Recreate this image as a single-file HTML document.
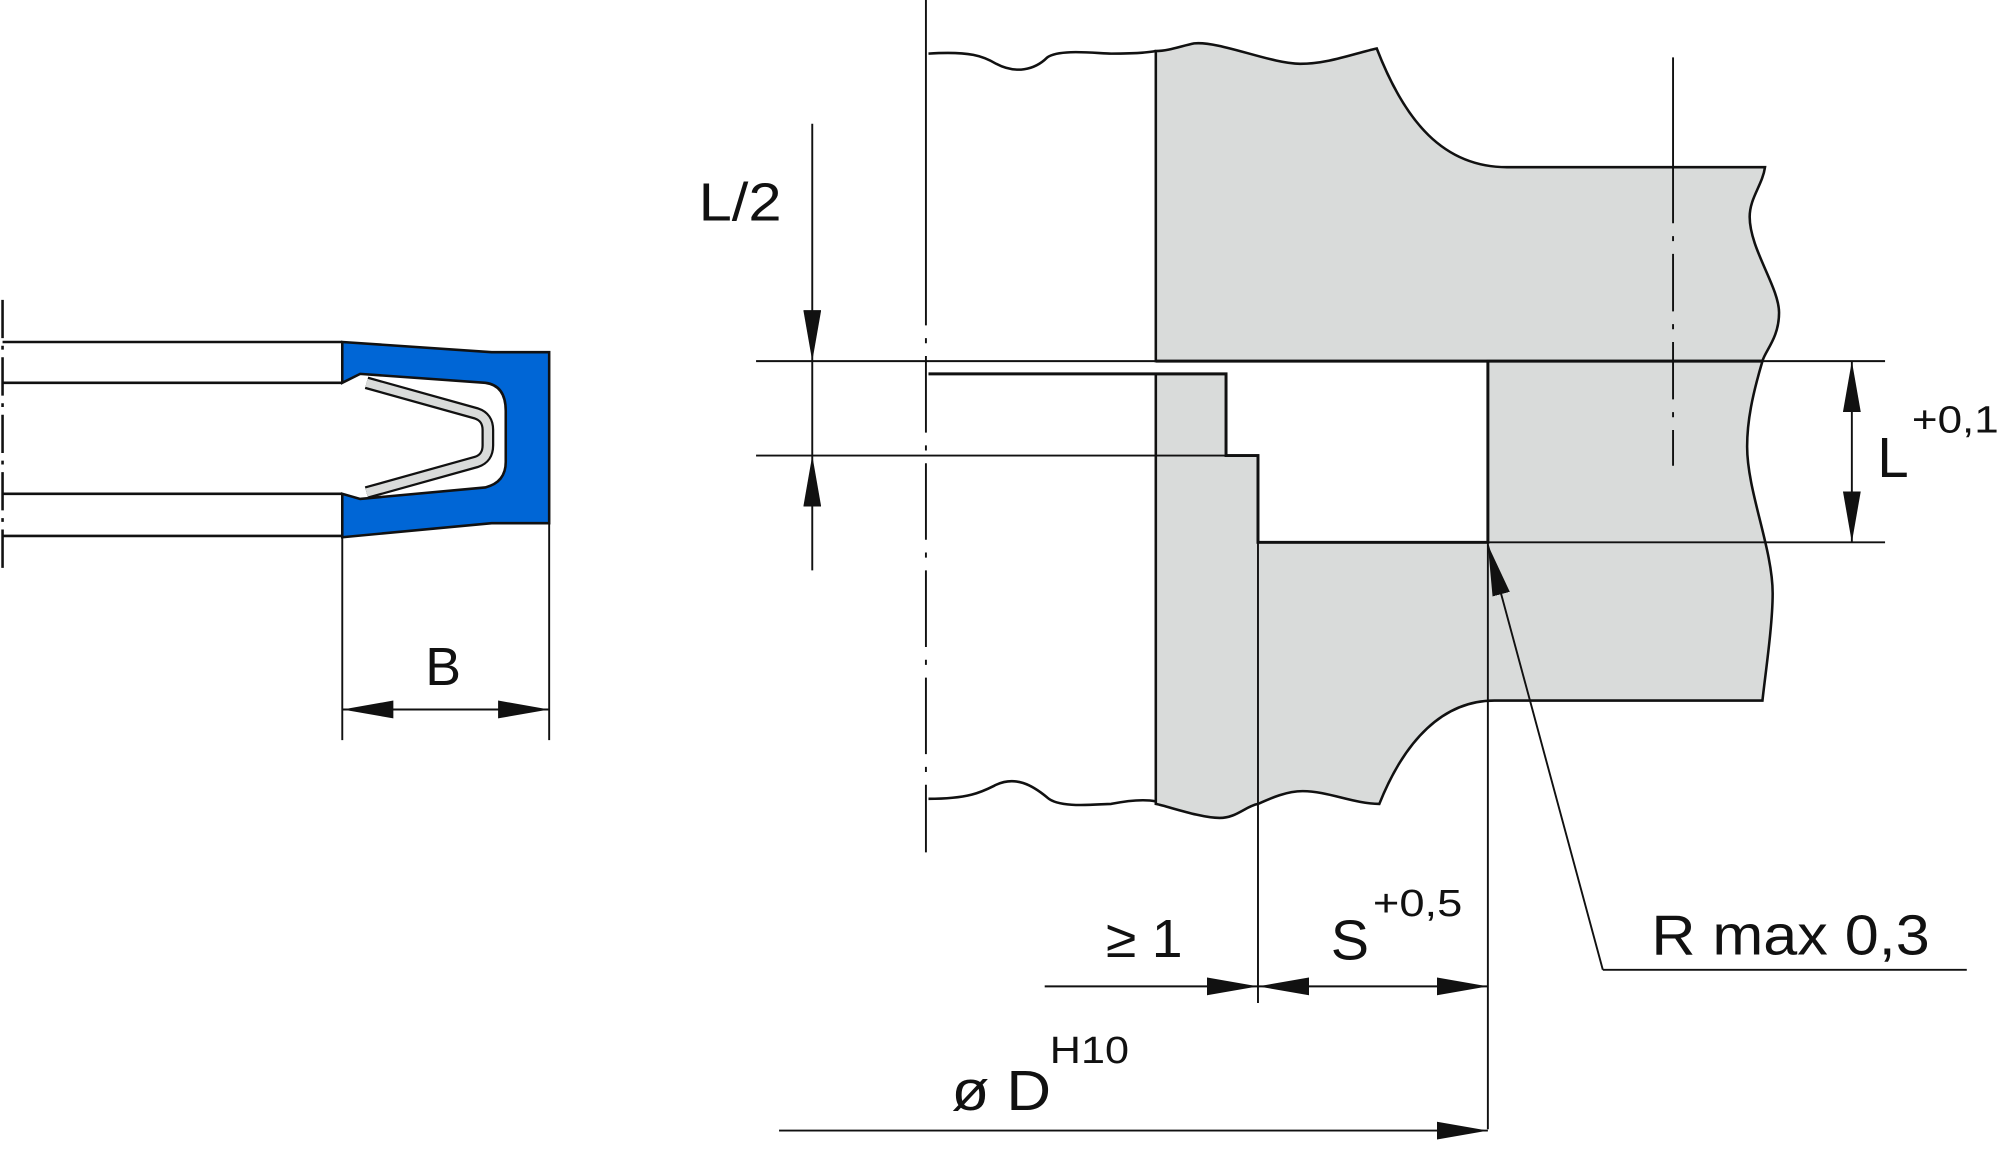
<!DOCTYPE html>
<html><head><meta charset="utf-8"><style>html,body{margin:0;padding:0;background:#fff}svg{display:block}</style></head><body>
<svg width="2000" height="1151" viewBox="0 0 1566 902" preserveAspectRatio="none" xmlns="http://www.w3.org/2000/svg">
<defs>
<marker id="a" viewBox="0 0 40 14" refX="40" refY="7" markerWidth="40" markerHeight="14" markerUnits="userSpaceOnUse" orient="auto-start-reverse"><path d="M0,0 L40,7 L0,14 Z" fill="#111"/></marker>
</defs>
<g fill="none" stroke="#111" stroke-width="2">
<!-- left part -->
<path d="M2,268 H268 M2,300 H268 M2,387 H268 M2,420 H268"/>
<path d="M268,268 L385,276 L430,276 L430,410 L385,410 L268,421 L268,387 L282,391 L380,382 Q396,378 396,362 L396,322 Q396,302 380,300 L282,293 L268,300 Z" fill="#0066d6"/>
<path d="M287,300 L373,324 Q382,327 382,337 L382,349 Q382,359 373,362 L287,386" stroke="#111" stroke-width="10" stroke-linejoin="round"/>
<path d="M287,300 L373,324 Q382,327 382,337 L382,349 Q382,359 373,362 L287,386" stroke="#d9dbda" stroke-width="6.5" stroke-linejoin="round"/>
<path d="M268,421 V580 M430,410 V580" stroke-width="1.5"/>
<path d="M268,556 H430" stroke-width="1.5" marker-start="url(#a)" marker-end="url(#a)"/>

<!-- right part -->
<path d="M727,42 C760,40 770,44 780,50 C795,58 810,55 820,45 C830,38 860,42 870,42 C880,42 895,42 905,40"/>
<path d="M727,626 C760,626 770,620 780,615 C795,608 808,615 820,625 C830,634 860,630 870,630 C880,628 895,626 905,628"/>
<path d="M905,283 V40 C915,40 925,36 935,34 C955,32 995,50 1018,50 C1040,50 1060,42 1078,38 C1100,95 1130,131 1180,131 H1382 C1380,145 1370,155 1370,170 C1370,195 1393,225 1393,245 C1393,265 1382,275 1380,283 Z" fill="#d9dbda"/>
<path d="M1165,283 H1380 C1372,310 1368,330 1368,350 C1368,385 1388,430 1388,465 C1388,490 1382,530 1380,549 H1170 C1130,549 1100,580 1080,630 C1060,630 1040,620 1020,620 C1005,620 990,628 985,630 C975,632 968,641 955,641 C940,641 915,632 905,630 V293 H960 V357 H985 V425 H1165 Z" fill="#d9dbda"/>
<path d="M905,283 H1380 M1165,283 V425 H985 V357 H960 V293 H727" stroke-width="2.3"/>
<path d="M592,283 H1476 M592,357 H985 M1165,425 H1476" stroke-width="1.5"/>
<path d="M905,293 V630" stroke-width="1.5"/>
<path d="M1165,425 V885 M985,425 V786" stroke-width="1.5"/>
<!-- center lines -->
<path d="M2,235 V445" stroke-width="2" stroke-dasharray="30,6,3,6"/>
<path d="M725,0 V668" stroke-width="1.5" stroke-dasharray="255,10,4,10,60,10,4,10,60,10,4,10,60,10,4,10,60,10,4,10"/>
<path d="M1310,45 V365" stroke-width="1.5" stroke-dasharray="130,10,4,10,45,10,4,10,45,10,4,10,45"/>
<!-- L/2 -->
<path d="M636,97 V283" stroke-width="1.5" marker-end="url(#a)"/>
<path d="M636,283 V357" stroke-width="1.5"/>
<path d="M636,447 V357" stroke-width="1.5" marker-end="url(#a)"/>
<!-- L -->
<path d="M1450,283 V425" stroke-width="1.5" marker-start="url(#a)" marker-end="url(#a)"/>
<!-- ≥1 and S -->
<path d="M818,773 H985" stroke-width="1.5" marker-end="url(#a)"/>
<path d="M985,773 H1165" stroke-width="1.5" marker-start="url(#a)" marker-end="url(#a)"/>
<path d="M610,886 H1165" stroke-width="1.5" marker-end="url(#a)"/>
<!-- R leader -->
<path d="M1255,760 L1165,427" stroke-width="1.5" marker-end="url(#a)"/>
<path d="M1255,760 H1540" stroke-width="1.5"/>
</g>
<g font-family="Liberation Sans, sans-serif" fill="#111">
<text x="333" y="537" font-size="42">B</text>
<text x="547" y="173" font-size="42" textLength="65" lengthAdjust="spacingAndGlyphs">L/2</text>
<text x="1470" y="374" font-size="44">L</text>
<text x="1497" y="339" font-size="30" textLength="68" lengthAdjust="spacingAndGlyphs">+0,1</text>
<text x="866" y="750" font-size="42" textLength="60" lengthAdjust="spacingAndGlyphs">≥ 1</text>
<text x="1042" y="752" font-size="44" textLength="30" lengthAdjust="spacingAndGlyphs">S</text>
<text x="1075" y="718" font-size="30" textLength="70" lengthAdjust="spacingAndGlyphs">+0,5</text>
<text x="1293" y="748" font-size="44" textLength="218" lengthAdjust="spacingAndGlyphs">R max 0,3</text>
<text x="745" y="870" font-size="44" textLength="78" lengthAdjust="spacingAndGlyphs">ø D</text>
<text x="822" y="833" font-size="30" textLength="62" lengthAdjust="spacingAndGlyphs">H10</text>
</g>
</svg>
</body></html>
